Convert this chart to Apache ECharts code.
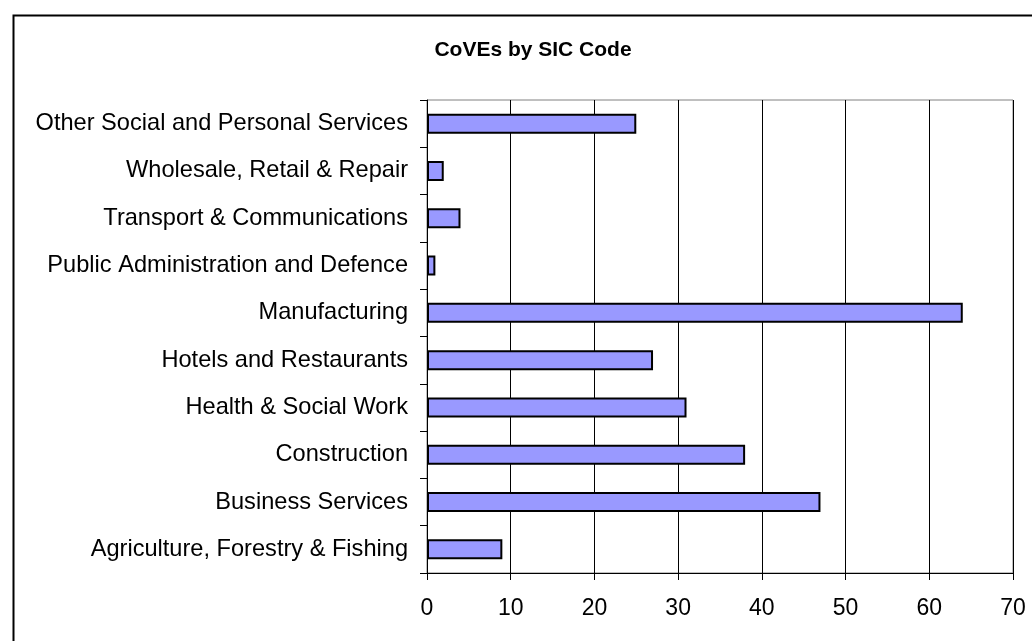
<!DOCTYPE html>
<html>
<head>
<meta charset="utf-8">
<script src="https://cdn.jsdelivr.net/npm/echarts@6/dist/echarts.min.js"></script>
<style>html,body{margin:0;padding:0;background:#fff}#c{width:1032px;height:641px}</style>
</head>
<body>
<div id="c"></div>
<script>
const categories = ['Agriculture, Forestry & Fishing', 'Business Services', 'Construction', 'Health & Social Work', 'Hotels and Restaurants', 'Manufacturing', 'Public Administration and Defence', 'Transport & Communications', 'Wholesale, Retail & Repair', 'Other Social and Personal Services'];
const values = [9, 47, 38, 31, 27, 64, 1, 4, 2, 25];
const titleText = 'CoVEs by SIC Code';

const chart = echarts.init(document.getElementById('c'), null, {renderer: 'canvas'});
const font = 'Liberation Sans, Arial, sans-serif';
chart.setOption({
  animation: false,
  backgroundColor: '#fff',
  title: {
    text: titleText,
    left: 528, top: 35, textAlign: 'center',
    textStyle: {fontFamily: font, fontSize: 21, fontWeight: 'bold', color: '#000'}
  },
  graphic: [{
    type: 'rect', left: 11, top: 13, z: 100,
    shape: {width: 1100, height: 700},
    style: {fill: 'none', stroke: '#000', lineWidth: 2}
  }],
  grid: {left: 427, top: 100, width: 586, height: 473, show: true, borderColor: '#808080', borderWidth: 1, containLabel: false},
  xAxis: {
    type: 'value', min: 0, max: 70, interval: 10,
    axisLine: {show: true, lineStyle: {color: '#000', width: 1}},
    axisTick: {show: true, length: 7, lineStyle: {color: '#000'}},
    splitLine: {show: true, lineStyle: {color: '#000', width: 1}},
    axisLabel: {fontFamily: font, fontSize: 23, color: '#000', margin: 24}
  },
  yAxis: {
    type: 'category', data: categories,
    axisLine: {show: true, lineStyle: {color: '#000', width: 1}},
    axisTick: {show: true, length: 7, lineStyle: {color: '#000'}},
    axisLabel: {fontFamily: font, fontSize: 23.6, color: '#000', margin: 19}
  },
  series: [{
    type: 'bar', data: values, barWidth: 20,
    itemStyle: {color: '#9999FF', borderColor: '#000', borderWidth: 2}
  }]
});
</script>
</body>
</html>
